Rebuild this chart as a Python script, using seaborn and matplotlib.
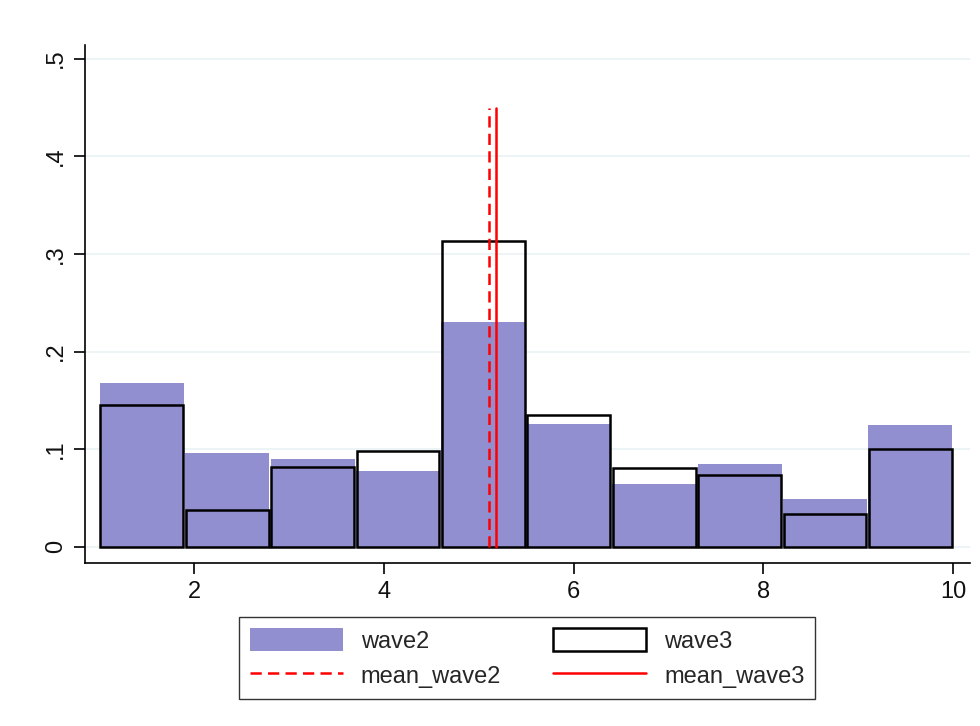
import numpy as np
import pandas as pd
import matplotlib
matplotlib.use("Agg")
import matplotlib.pyplot as plt
import seaborn as sns
from matplotlib.patches import Patch
from matplotlib.lines import Line2D

# Data (density per bin, bin width 0.9 from 1 to 10)
bin_edges = [1.0, 1.9, 2.8, 3.7, 4.6, 5.5, 6.4, 7.3, 8.2, 9.1, 10.0]
wave2_density = [0.168, 0.096, 0.090, 0.078, 0.230, 0.126, 0.064, 0.085, 0.049, 0.125]
wave3_density = [0.145, 0.038, 0.082, 0.098, 0.313, 0.135, 0.081, 0.074, 0.034, 0.100]
mean_wave2 = 5.11
mean_wave3 = 5.18
y_ticks = [0, 0.1, 0.2, 0.3, 0.4, 0.5]
y_ticklabels = ["0", ".1", ".2", ".3", ".4", ".5"]
x_ticks = [2, 4, 6, 8, 10]

sns.set_theme(style="white")
plt.rcParams['font.family'] = ['Liberation Sans', 'DejaVu Sans']

centers = [(bin_edges[i] + bin_edges[i + 1]) / 2 for i in range(len(bin_edges) - 1)]
df = pd.DataFrame({"center": centers, "wave2": wave2_density, "wave3": wave3_density})

fig = plt.figure(figsize=(9.8, 7.26), dpi=100)
ax = fig.add_axes([0.0867, 0.2245, 0.9033, 0.7135])

fill_col = "#928FD0"
for yt in y_ticks:
    ax.axhline(yt, color="#eaf2f3", lw=1.2, zorder=0)

sns.histplot(data=df, x="center", weights="wave2", bins=bin_edges, stat="count",
             color=fill_col, alpha=1, edgecolor="none", linewidth=0, shrink=0.985,
             ax=ax, zorder=2)
sns.histplot(data=df, x="center", weights="wave3", bins=bin_edges, stat="count",
             fill=False, color="black", edgecolor="black", linewidth=1.8, shrink=0.97,
             ax=ax, zorder=3)

ax.plot([mean_wave2, mean_wave2], [0, 0.45], color="#ff0000", lw=1.8, ls=(0, (4.5, 2.5)), zorder=4)
ax.plot([mean_wave3, mean_wave3], [0, 0.45], color="#ff0000", lw=1.8, zorder=4)

ax.set_xlim(0.85, 10.18)
ax.set_ylim(-0.0165, 0.514)
ax.set_xticks(x_ticks)
ax.set_xticklabels([str(x) for x in x_ticks], fontsize=17)
ax.set_yticks(y_ticks)
ax.set_yticklabels(y_ticklabels, fontsize=17, rotation=90, va="center")
ax.set_xlabel("")
ax.set_ylabel("")

for s in ["top", "right"]:
    ax.spines[s].set_visible(False)
for s in ["left", "bottom"]:
    ax.spines[s].set_color("black")
    ax.spines[s].set_linewidth(1.2)
ax.tick_params(axis="both", direction="out", length=8, width=1.2, color="black",
               left=True, bottom=True, pad=5, labelcolor="#111111")

handles = [
    Patch(facecolor=fill_col, edgecolor="none"),
    Line2D([0], [0], color="#ff0000", lw=1.8, ls=(0, (4.5, 2.5))),
    Patch(facecolor="white", edgecolor="black", linewidth=1.8),
    Line2D([0], [0], color="#ff0000", lw=1.8),
]
labels = ["wave2", "mean_wave2", "wave3", "mean_wave3"]
leg = fig.legend(handles, labels, loc="center", bbox_to_anchor=(0.538, 0.0937), ncol=2,
                 fontsize=17, frameon=True, fancybox=False, handlelength=3.95, handleheight=1.15,
                 columnspacing=2.2, handletextpad=0.75, labelspacing=0.45, borderpad=0.45,
                 borderaxespad=0, edgecolor="black")
leg.get_frame().set_linewidth(1.0)

fig.savefig("out.png", dpi=100)
